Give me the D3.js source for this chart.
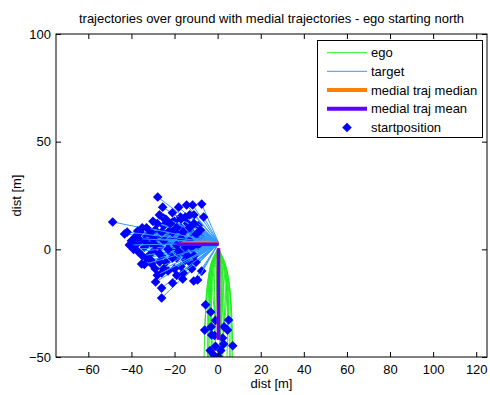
<!DOCTYPE html>
<html><head><meta charset="utf-8">
<script src="https://cdn.jsdelivr.net/npm/d3@7"></script>
<style>body{margin:0;background:#fff}svg{display:block;font-family:"Liberation Sans",Arial,sans-serif}</style>
</head><body><svg id="c" width="490" height="395"></svg>
<script>
// ---- data ----
const xTicks = [-60,-40,-20,0,20,40,60,80,100,120];
const yTicks = [-50,0,50,100];
const xDomain = [-75,125];
const yDomain = [-50,100];
const titleText = "trajectories over ground with medial trajectories - ego starting north";
const legendLabels = ["ego","target","medial traj median","medial traj mean","startposition"];

// target start positions [x,y]
const targetStarts = [
 [-27.8,24.3],[-25.5,19.6],[-48.7,12.7],[-43.2,7.1],[-37.1,8.5],[-18.1,19.6],[-14.4,20.6],
 [-11.6,20.6],[-7.4,21.0],[-6.5,15.0],[-17.2,15.0],[-20.9,12.7],[-25.1,14.5],[-35.3,-6.8],
 [-30.6,-6.8],[-26.9,-5.9],[-28.8,-15.2],[-26.0,-18.0],[-26.0,-22.6],[-20.9,-15.6],[-16.2,-13.8],
 [-11.1,-14.7],[-7.4,-10.1],[-9.3,-14.2],
 [-36,4],[-34,1],[-33,6],[-31,3],[-30,-1],[-29,9],[-28,5],[-27,1],[-26,-3],[-25,11],[-24,7],
 [-23,3],[-22,-1],[-22,9],[-21,5],[-20,0],[-20,13],[-19,-4],[-18,7],[-18,3],[-17,10],[-16,-2],
 [-15,5],[-14,12],[-14,1],[-13,-6],[-12,8],[-11,16],[-10,3],[-9,11],[-32,-3],[-38,2],[-35,10],
 [-30,13],[-24,-6],[-17,-8],[-27,16],[-21,17],[-12,-9],[-33,-4],[-40,4],[-39,0],[-32.5,3],
 [-29,-9],[-23,-10],[-15,-5],[-8,6],[-13,16],[-37,-1],
 [-38,6],[-36,8],[-35,-3],[-34,4],[-31,8],[-31,-5],[-29,2],[-28,12],[-27,-2],[-26,8],[-25,4],
 [-25,-9],[-24,14],[-23,0],[-22,12],[-21,-4],[-21,8],[-19,10],[-19,2],[-18,-1],[-17,5],[-17,14],
 [-16,8],[-16,-11],[-15,1],[-15,15],[-14,-3],[-13,4],[-13,10],[-12,1],[-11,12],[-11,-3],[-10,7],
 [-10,-6],[-9,2],[-8,9],[-20,-9],[-26,-11],[-30,5],[-33,10],[-37,5],[-41,2],[-42,8],[-34,-7],
 [-28,-12],[-19,-12]
];
const targetEnd = [0.5,2.9];

// ego trajectories, points from start to end
const egoPaths = [
 [[-3.2,-29.1],[-4.2,-20],[-2.6,-7],[0.3,0.5]],
 [[-6.0,-37.5],[-4.8,-20],[-2.8,-7],[0.3,0.5]],
 [[5.1,-32.8],[5.2,-20],[3.2,-7],[0.3,0.5]],
 [[-2.8,-39.8],[-3.6,-20],[-2.2,-7],[0.3,0.5]],
 [[4.6,-37.5],[4.8,-20],[3.0,-7],[0.3,0.5]],
 [[7.0,-44.8],[5.6,-20],[3.4,-7],[0.3,0.5]],
 [[-1.9,-49.0],[-3.0,-20],[-2.0,-7],[0.3,0.5]],
 [[0.5,-50.0],[2.5,-20],[1.8,-7],[0.3,0.5]],
 [[2.3,-41.2],[3.6,-20],[2.4,-7],[0.3,0.5]],
 [[-5.6,-25.7],[-4.6,-15],[-2.6,-5],[0.3,0.5]],
 [[-1.0,-45.0],[-1.5,-20],[-1.0,-7],[0.3,0.5]],
 [[1.5,-47.0],[1.2,-20],[0.9,-7],[0.3,0.5]],
 [[-3.5,-47.0],[-3.8,-20],[-2.4,-7],[0.3,0.5]],
 [[3.0,-36.0],[4.2,-20],[2.8,-7],[0.3,0.5]],
 [[-1.0,-33.0],[-2.2,-20],[-1.4,-7],[0.3,0.5]],
 [[6.0,-58.0],[5.8,-20],[3.6,-7],[0.3,0.5]],
 [[-4.0,-60.0],[-4.4,-20],[-2.7,-7],[0.3,0.5]],
 [[2.0,-56.0],[3.0,-30],[2.0,-7],[0.3,0.5]],
 [[-6.5,-62.0],[-5.2,-22],[-3.0,-7],[0.3,0.5]],
 [[6.8,-64.0],[6.2,-24],[3.8,-8],[0.3,0.5]],
 [[-2.0,-58.0],[-3.4,-25],[-2.3,-8],[0.3,0.5]],
 [[4.0,-60.0],[4.6,-25],[3.0,-8],[0.3,0.5]],
 [[0.0,-62.0],[1.8,-25],[1.3,-8],[0.3,0.5]],
 [[-4.8,-55.0],[-4.0,-28],[-2.5,-9],[0.3,0.5]],
 [[5.5,-52.0],[5.0,-28],[3.3,-9],[0.3,0.5]],
 [[-1.4,-40.0],[-0.6,-20],[-0.4,-7],[0.3,0.5]],
 [[2.8,-44.0],[2.2,-20],[1.5,-7],[0.3,0.5]],
 [[-3.0,-36.0],[-2.8,-20],[-1.8,-7],[0.3,0.5]]
];

const medianTarget = [[-17,2.6],[-8,3.2],[-4,3.2],[0.5,2.6]];
const medianEgo = [[0.4,0.5],[0.4,-42]];
const meanTarget = [[-19,2.4],[0.5,2.4]];
const meanEgo = [[0.4,0.5],[0.4,-42]];

// ---- layout ----
const L=56, T=34, R=487, B=357;
const FS=13;
const egoColor="#22ee22", targetColor="#3399ff", medianColor="#ff8000", meanColor="#6000ff", markColor="#0000ff";
const svg=d3.select("#c");
const x=d3.scaleLinear().domain(xDomain).range([L,R]);
const y=d3.scaleLinear().domain(yDomain).range([B,T]);

svg.append("defs").append("clipPath").attr("id","clip").append("rect")
 .attr("x",L).attr("y",T).attr("width",R-L).attr("height",B-T);
const g=svg.append("g").attr("clip-path","url(#clip)");
const diamond=d3.symbol().type(d3.symbolSquare).size(46);
const curve=d3.line().x(d=>x(d[0])).y(d=>y(d[1])).curve(d3.curveCatmullRom);
const line=d3.line().x(d=>x(d[0])).y(d=>y(d[1]));
const mark=(sel,px,py)=>sel.append("path").attr("d",diamond).attr("transform",`translate(${px},${py}) rotate(45)`).attr("fill",markColor);

egoPaths.forEach(p=>{
  g.append("path").attr("d",curve(p)).attr("fill","none").attr("stroke",egoColor).attr("stroke-width",1);
});
egoPaths.forEach(p=>mark(g,x(p[0][0]),y(p[0][1])));
targetStarts.forEach(s=>{
  g.append("path").attr("d",line([s,targetEnd])).attr("fill","none").attr("stroke",targetColor).attr("stroke-width",1);
  mark(g,x(s[0]),y(s[1]));
});
[medianTarget,medianEgo].forEach(p=>g.append("path").attr("d",line(p)).attr("fill","none").attr("stroke",medianColor).attr("stroke-width",3.5));
[meanTarget,meanEgo].forEach(p=>g.append("path").attr("d",line(p)).attr("fill","none").attr("stroke",meanColor).attr("stroke-width",3.5));

// axes box
svg.append("rect").attr("x",L).attr("y",T).attr("width",R-L).attr("height",B-T).attr("fill","none").attr("stroke","#000").attr("stroke-width",1);
const ax=svg.append("g").attr("transform",`translate(0,${B})`).call(d3.axisBottom(x).tickValues(xTicks).tickSizeInner(-5).tickSizeOuter(0).tickPadding(8));
const axT=svg.append("g").attr("transform",`translate(0,${T})`).call(d3.axisTop(x).tickValues(xTicks).tickSizeInner(-5).tickSizeOuter(0).tickFormat(""));
const ay=svg.append("g").attr("transform",`translate(${L},0)`).call(d3.axisLeft(y).tickValues(yTicks).tickSizeInner(-5).tickSizeOuter(0).tickPadding(5));
const ayR=svg.append("g").attr("transform",`translate(${R},0)`).call(d3.axisRight(y).tickValues(yTicks).tickSizeInner(-5).tickSizeOuter(0).tickFormat(""));
[ax,axT,ay,ayR].forEach(a=>{a.select(".domain").remove();a.selectAll("text").attr("font-size",FS).attr("fill","#000").attr("font-family","Liberation Sans, Arial, sans-serif");a.selectAll("line").attr("stroke","#000");});
ax.selectAll("text").attr("dy","0.71em");

svg.append("text").attr("x",(L+R)/2).attr("y",23).attr("text-anchor","middle").attr("font-size",FS).text(titleText);
svg.append("text").attr("x",(L+R)/2).attr("y",388).attr("text-anchor","middle").attr("font-size",FS).text("dist [m]");
svg.append("text").attr("transform",`translate(21,${(T+B)/2}) rotate(-90)`).attr("text-anchor","middle").attr("font-size",FS).text("dist [m]");

// legend
const lg=svg.append("g");
lg.append("rect").attr("x",317.5).attr("y",40.5).attr("width",165).attr("height",97).attr("fill","#fff").attr("stroke","#000");
const rows=[52.7,71.3,90.1,108.7,127.5];
const styles=[[egoColor,1],[targetColor,1],[medianColor,4],[meanColor,4]];
legendLabels.forEach((lab,i)=>{
  if(i<4) lg.append("line").attr("x1",327).attr("x2",367).attr("y1",rows[i]).attr("y2",rows[i]).attr("stroke",styles[i][0]).attr("stroke-width",styles[i][1]);
  else mark(lg,347,rows[i]);
  lg.append("text").attr("x",371).attr("y",rows[i]).attr("dy","0.35em").attr("font-size",FS).text(lab);
});
</script></body></html>
